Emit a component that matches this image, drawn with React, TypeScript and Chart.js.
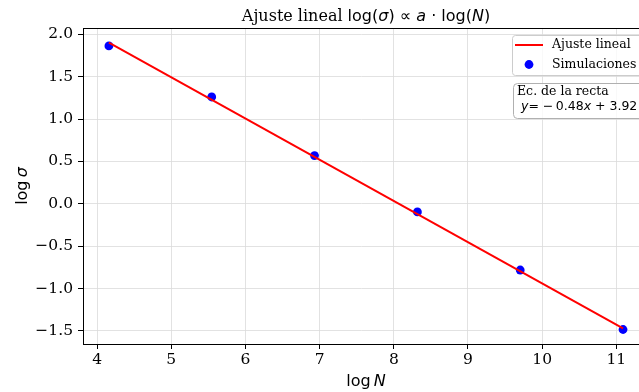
import React, { useEffect, useRef } from "react";
import { Chart, registerables } from "chart.js";

Chart.register(...registerables);

const logN: number[] = [4.159, 5.545, 6.931, 8.318, 9.704, 11.09];
const logSigma: number[] = [1.863, 1.261, 0.57, -0.096, -0.781, -1.483];
const fitX: number[] = [4.159, 11.09];
const fitY: number[] = [1.902, -1.469];
const xTicks: number[] = [4, 5, 6, 7, 8, 9, 10, 11];
const yTicks: number[] = [-1.5, -1.0, -0.5, 0.0, 0.5, 1.0, 1.5, 2.0];
const legendLabels: string[] = ["Ajuste lineal", "Simulaciones"];
const eqTitle = "Ec. de la recta";

const SERIF = '"DejaVu Serif", serif';
const SANS = '"DejaVu Sans", sans-serif';

type Seg = { t: string; f: string };

function drawSegs(ctx: CanvasRenderingContext2D, segs: Seg[], x: number, y: number, align: "left" | "center") {
  let total = 0;
  const widths = segs.map((s) => {
    ctx.font = s.f;
    const w = ctx.measureText(s.t).width;
    total += w;
    return w;
  });
  let cx = align === "center" ? x - total / 2 : x;
  ctx.textAlign = "left";
  segs.forEach((s, i) => {
    ctx.font = s.f;
    ctx.fillText(s.t, cx, y);
    cx += widths[i];
  });
}

function roundRect(ctx: CanvasRenderingContext2D, x: number, y: number, w: number, h: number, r: number) {
  ctx.beginPath();
  ctx.moveTo(x + r, y);
  ctx.lineTo(x + w - r, y);
  ctx.quadraticCurveTo(x + w, y, x + w, y + r);
  ctx.lineTo(x + w, y + h - r);
  ctx.quadraticCurveTo(x + w, y + h, x + w - r, y + h);
  ctx.lineTo(x + r, y + h);
  ctx.quadraticCurveTo(x, y + h, x, y + h - r);
  ctx.lineTo(x, y + r);
  ctx.quadraticCurveTo(x, y, x + r, y);
  ctx.closePath();
}

const PLOT_RIGHT = 649;

const decorPlugin = {
  id: "decor",
  afterLayout(chart: any) {
    const a = chart.chartArea;
    a.right = PLOT_RIGHT;
    a.width = PLOT_RIGHT - a.left;
    const xs = chart.scales.x;
    xs.right = PLOT_RIGHT;
    xs.width = PLOT_RIGHT - xs.left;
    xs.configure();
  },
  afterDraw(chart: any) {
    const ctx: CanvasRenderingContext2D = chart.ctx;
    const a = chart.chartArea;
    ctx.save();
    // spines
    ctx.strokeStyle = "#000";
    ctx.lineWidth = 1;
    ctx.strokeRect(Math.round(a.left) + 0.5, Math.round(a.top) + 0.5, Math.round(a.right - a.left), Math.round(a.bottom - a.top));

    ctx.fillStyle = "#000";
    ctx.textBaseline = "alphabetic";
    const cx = (a.left + a.right) / 2;
    const t = 16;
    drawSegs(
      ctx,
      [
        { t: "Ajuste lineal ", f: `${t}px ${SERIF}` },
        { t: "log(", f: `${t}px ${SANS}` },
        { t: "σ", f: `italic ${t}px ${SANS}` },
        { t: ") ∝ ", f: `${t}px ${SANS}` },
        { t: "a", f: `italic ${t}px ${SANS}` },
        { t: " · log(", f: `${t}px ${SANS}` },
        { t: "N", f: `italic ${t}px ${SANS}` },
        { t: ")", f: `${t}px ${SANS}` },
      ],
      cx,
      20.5,
      "center"
    );
    // x label
    drawSegs(
      ctx,
      [
        { t: "log\u2009", f: `16px ${SANS}` },
        { t: "N", f: `italic 16px ${SANS}` },
      ],
      cx,
      386,
      "center"
    );
    // y label
    ctx.save();
    ctx.translate(27, (a.top + a.bottom) / 2);
    ctx.rotate(-Math.PI / 2);
    drawSegs(
      ctx,
      [
        { t: "log\u2009", f: `16px ${SANS}` },
        { t: "σ", f: `italic 16px ${SANS}` },
      ],
      0,
      0,
      "center"
    );
    ctx.restore();

    // legend box
    roundRect(ctx, 512.5, 35.5, 150, 40, 3);
    ctx.fillStyle = "rgba(255,255,255,0.8)";
    ctx.fill();
    ctx.strokeStyle = "#cccccc";
    ctx.stroke();
    ctx.strokeStyle = "#ff0000";
    ctx.lineWidth = 2;
    ctx.beginPath();
    ctx.moveTo(515, 45);
    ctx.lineTo(543, 45);
    ctx.stroke();
    ctx.fillStyle = "#0000ff";
    ctx.beginPath();
    ctx.arc(529, 64.5, 4.4, 0, Math.PI * 2);
    ctx.fill();
    ctx.fillStyle = "#000";
    ctx.textBaseline = "middle";
    ctx.font = `12.5px ${SERIF}`;
    ctx.textAlign = "left";
    ctx.fillText(legendLabels[0], 552, 45);
    ctx.fillText(legendLabels[1], 552, 64.5);

    // equation box
    ctx.lineWidth = 1;
    roundRect(ctx, 513.5, 83.5, 150, 35, 4);
    ctx.fillStyle = "rgba(255,255,255,0.8)";
    ctx.fill();
    ctx.strokeStyle = "#b0b0b0";
    ctx.stroke();
    ctx.fillStyle = "#000";
    ctx.font = `12.5px ${SERIF}`;
    ctx.fillText(eqTitle, 517, 91.5);
    drawSegs(
      ctx,
      [
        { t: "y", f: `italic 12.5px ${SANS}` },
        { t: "= ", f: `12.5px ${SANS}` },
        { t: "\u2212\u20090.48", f: `12.5px ${SANS}` },
        { t: "x", f: `italic 12.5px ${SANS}` },
        { t: " + 3.92", f: `12.5px ${SANS}` },
      ],
      521,
      107,
      "left"
    );
    ctx.restore();
  },
};

export default function App() {
  const ref = useRef<HTMLCanvasElement | null>(null);
  useEffect(() => {
    if (!ref.current) return;
    const chart = new Chart(ref.current, {
      type: "scatter",
      data: {
        datasets: [
          {
            label: legendLabels[0],
            data: fitX.map((x, i) => ({ x, y: fitY[i] })),
            showLine: true,
            borderColor: "#ff0000",
            borderWidth: 2,
            pointRadius: 0,
            fill: false,
          },
          {
            label: legendLabels[1],
            data: logN.map((x, i) => ({ x, y: logSigma[i] })),
            backgroundColor: "#0000ff",
            borderColor: "#0000ff",
            borderWidth: 0,
            pointRadius: 4.4,
          },
        ],
      },
      options: {
        animation: false,
        responsive: false,
        devicePixelRatio: 1,
        layout: { padding: { left: 0, right: 0, top: 28, bottom: 0 } },
        plugins: { legend: { display: false }, title: { display: false }, tooltip: { enabled: false } },
        scales: {
          x: {
            type: "linear",
            min: 3.81,
            max: 11.44,
            border: { display: false },
            grid: { color: "#dadada", lineWidth: 0.8, tickColor: "#000", tickLength: 5, tickWidth: 1 },
            afterBuildTicks: (s: any) => {
              s.ticks = xTicks.map((v) => ({ value: v }));
            },
            ticks: {
              font: { family: SERIF, size: 15.5 },
              color: "#000",
              padding: 2,
              maxRotation: 0,
              autoSkip: false,
              callback: (v: any) => String(v),
            },
            afterFit: (s: any) => {
              s.height = 48;
            },
          },
          y: {
            type: "linear",
            min: -1.654,
            max: 2.075,
            border: { display: false },
            grid: { color: "#dadada", lineWidth: 0.8, tickColor: "#000", tickLength: 5, tickWidth: 1 },
            afterBuildTicks: (s: any) => {
              s.ticks = yTicks.map((v) => ({ value: v }));
            },
            ticks: {
              font: { family: SERIF, size: 15.5 },
              color: "#000",
              padding: 5,
              autoSkip: false,
              callback: (v: any) => (v < 0 ? "\u2212" : "") + Math.abs(Number(v)).toFixed(1),
            },
            afterFit: (s: any) => {
              s.width = 83;
            },
          },
        },
      },
      plugins: [decorPlugin],
    } as any);
    return () => chart.destroy();
  }, []);
  return (
    <div style={{ position: "absolute", left: 0, top: 0, width: 639, height: 392, overflow: "hidden", background: "#fff" }}>
      <canvas ref={ref} width={639} height={392} style={{ display: "block", width: 639, height: 392 }} />
    </div>
  );
}
